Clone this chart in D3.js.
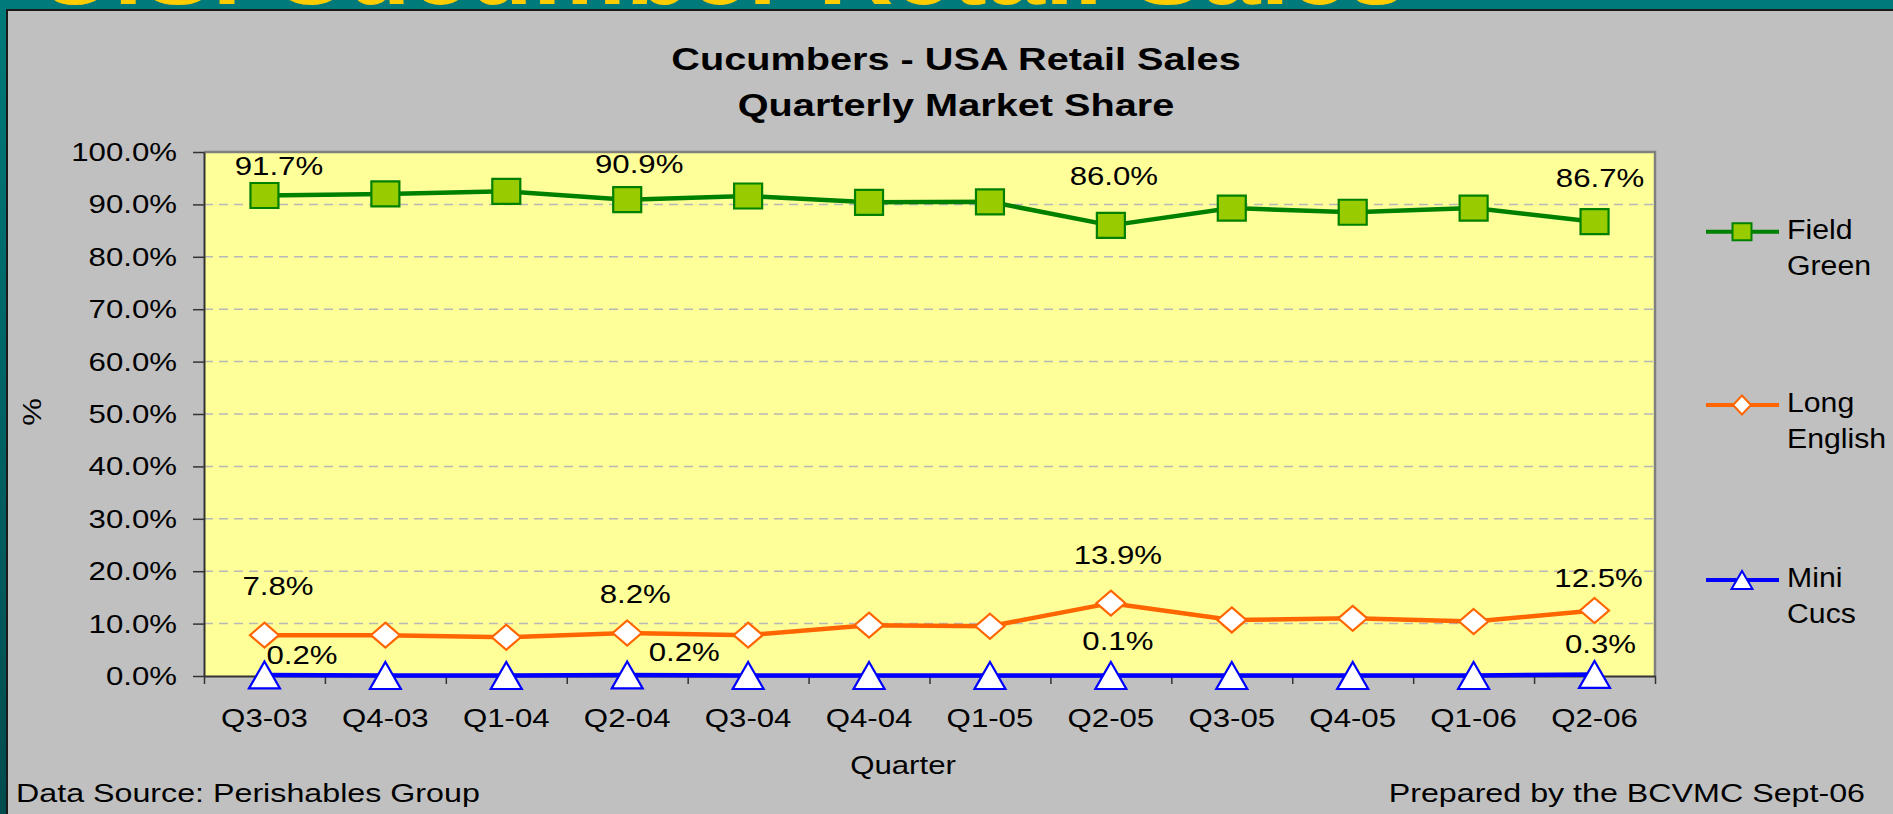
<!DOCTYPE html>
<html>
<head>
<meta charset="utf-8">
<script src="https://cdn.jsdelivr.net/npm/d3@7"></script>
<style>
  body { margin: 0; background: #007a7a; overflow: hidden; }
  svg { display: block; }
  text { font-family: "Liberation Sans", Arial, sans-serif; }
</style>
</head>
<body>
<svg id="chart" width="1893" height="814"></svg>
<script>
// ---------------- DATA ----------------
const categories = ["Q3-03", "Q4-03", "Q1-04", "Q2-04", "Q3-04", "Q4-04",
                    "Q1-05", "Q2-05", "Q3-05", "Q4-05", "Q1-06", "Q2-06"];
const fieldGreen  = [91.7, 92.0, 92.5, 90.9, 91.6, 90.4, 90.5, 86.0, 89.3, 88.5, 89.3, 86.7];
const longEnglish = [7.8, 7.8, 7.4, 8.2, 7.8, 9.7, 9.5, 13.9, 10.7, 11.0, 10.4, 12.5];
const miniCucs    = [0.2, 0.1, 0.1, 0.2, 0.1, 0.1, 0.1, 0.1, 0.1, 0.1, 0.1, 0.3];
const yTicks = [0, 10, 20, 30, 40, 50, 60, 70, 80, 90, 100];
const labelledIdx = [0, 3, 7, 11];
const seriesLegend = [["Field", "Green"], ["Long", "English"], ["Mini", "Cucs"]];
const chartTitle = ["Cucumbers - USA Retail Sales", "Quarterly Market Share"];
const bannerTitle = "U.S. Cucumber Retail Sales";

// ---------------- LAYOUT / STYLE ----------------
const SX = 1.2;              // horizontal text stretch
const plot = { left: 204, right: 1655, top: 152, bottom: 676 };
// label placement offsets (px) relative to each labelled marker
const labelOffsets = {
  field: [[14.5, -20.5], [12, -26.4], [3, -40.4], [5.5, -35]],
  long:  [[13.5, -40], [8, -29.7], [7, -39], [4, -24]],
  mini:  [[37.5, -11], [57, -14.3], [7, -25.5], [6, -21.7]]
};

const svg = d3.select("#chart");

// background with darker teal toward bottom
const defs = svg.append("defs");
const grad = defs.append("linearGradient").attr("id", "teal").attr("x1", 0).attr("y1", 0).attr("x2", 0).attr("y2", 1);
grad.append("stop").attr("offset", "0%").attr("stop-color", "#007a7a");
grad.append("stop").attr("offset", "100%").attr("stop-color", "#004c4f");
svg.append("rect").attr("width", 1893).attr("height", 814).attr("fill", "url(#teal)");
svg.append("rect").attr("x", 0).attr("y", 0).attr("width", 1893).attr("height", 10).attr("fill", "#007a7a");

// banner title (cut off at top)
svg.append("text")
  .attr("x", 38).attr("y", 3.5)
  .attr("font-size", 90).attr("font-weight", "bold").attr("fill", "#ffcc00")
  .attr("textLength", 1368).attr("lengthAdjust", "spacingAndGlyphs")
  .text(bannerTitle);

// grey panel
svg.append("rect").attr("x", 7).attr("y", 10).attr("width", 1900).attr("height", 820)
  .attr("fill", "#c0c0c0").attr("stroke", "#1a1a1a").attr("stroke-width", 2);

function stext(parent, x, y, str, opts = {}) {
  const t = parent.append("text")
    .attr("transform", `translate(${x},${y}) scale(${opts.sx || SX},1)` + (opts.extra || ""))
    .attr("font-size", opts.size || 26)
    .attr("text-anchor", opts.anchor || "start")
    .attr("fill", opts.fill || "#000")
    .text(str);
  if (opts.bold) t.attr("font-weight", "bold");
  return t;
}

// chart title
stext(svg, 956, 70, chartTitle[0], { size: 32, bold: true, anchor: "middle", sx: 1.24 });
stext(svg, 956, 116, chartTitle[1], { size: 32, bold: true, anchor: "middle", sx: 1.24 });

// scales
const x = d3.scaleBand().domain(categories).range([plot.left, plot.right]);
const xIdx = d3.scaleLinear().domain([0, categories.length]).range([plot.left, plot.right]);
const y = d3.scaleLinear().domain([0, 100]).range([plot.bottom, plot.top]);
const cx = (i) => x(categories[i]) + x.bandwidth() / 2;

// plot background
svg.append("rect").attr("x", plot.left).attr("y", plot.top)
  .attr("width", plot.right - plot.left).attr("height", plot.bottom - plot.top)
  .attr("fill", "#ffff99");

// gridlines
svg.append("g").selectAll("line").data(yTicks.filter(d => d > 0 && d < 100)).join("line")
  .attr("x1", plot.left).attr("x2", plot.right)
  .attr("y1", d => y(d)).attr("y2", d => y(d))
  .attr("stroke", "#b8b8b8").attr("stroke-width", 1.5).attr("stroke-dasharray", "9,6");

// plot border top/right
svg.append("path")
  .attr("d", `M${plot.left},${plot.top}H${plot.right}V${plot.bottom}`)
  .attr("fill", "none").attr("stroke", "#808080").attr("stroke-width", 2.5);

// y axis
const yAxis = svg.append("g").attr("transform", `translate(${plot.left},0)`)
  .call(d3.axisLeft(y).tickValues(yTicks).tickSize(11).tickSizeOuter(0)
        .tickFormat(d => d.toFixed(1) + "%"));
yAxis.select(".domain").attr("stroke", "#333").attr("stroke-width", 2);
yAxis.selectAll(".tick line").attr("stroke", "#333").attr("stroke-width", 1.5);
yAxis.selectAll(".tick text")
  .attr("x", -27 / SX).attr("dy", "0.33em")
  .attr("transform", `scale(${SX},1)`)
  .attr("font-size", 26).attr("font-family", null).attr("fill", "#000");

// x axis: boundary ticks
const xTickAxis = svg.append("g").attr("transform", `translate(0,${plot.bottom})`)
  .call(d3.axisBottom(xIdx).tickValues(d3.range(categories.length + 1)).tickSize(8)
        .tickSizeOuter(0).tickFormat(""));
xTickAxis.select(".domain").attr("stroke", "#333").attr("stroke-width", 2);
xTickAxis.selectAll(".tick line").attr("stroke", "#333").attr("stroke-width", 1.5);

// x axis labels
const xLabAxis = svg.append("g").attr("transform", `translate(0,${plot.bottom})`)
  .call(d3.axisBottom(x).tickSize(0));
xLabAxis.select(".domain").remove();
xLabAxis.selectAll(".tick text")
  .attr("y", 50.7).attr("dy", 0)
  .attr("transform", `scale(${SX},1)`)
  .attr("font-size", 26).attr("font-family", null).attr("fill", "#000");

// axis titles
stext(svg, 903, 774, "Quarter", { anchor: "middle" });
stext(svg, 41, 412, "%", { anchor: "middle", extra: "", sx: 1 })
  .attr("transform", `translate(41,412) rotate(-90) scale(${SX},1)`);

// footer
stext(svg, 16, 802, "Data Source: Perishables Group", { sx: 1.24 });
stext(svg, 1865, 802, "Prepared by the BCVMC Sept-06", { anchor: "end", sx: 1.24 });

// series definitions
const series = [
  { key: "field", values: fieldGreen, color: "#008000", marker: "square", fill: "#99cc00" },
  { key: "long", values: longEnglish, color: "#ff6600", marker: "diamond", fill: "#ffffff" },
  { key: "mini", values: miniCucs, color: "#0000ff", marker: "triangle", fill: "#ffffff" }
];

function markerPath(type, w, h) {
  const a = w / 2, b = h / 2;
  if (type === "square") return `M${-a},${-b}H${a}V${b}H${-a}Z`;
  if (type === "diamond") return `M0,${-b}L${a},0L0,${b}L${-a},0Z`;
  return `M0,${-b}L${a},${b}H${-a}Z`;
}
const markerSize = { square: [28, 25], diamond: [29, 25], triangle: [31, 27] };
const legendMarkerSize = { square: [19, 17], diamond: [18, 19], triangle: [21, 18] };

const line = d3.line().x((d, i) => cx(i)).y(d => y(d));

series.forEach(s => {
  svg.append("path").datum(s.values)
    .attr("d", line).attr("fill", "none")
    .attr("stroke", s.color).attr("stroke-width", 4.5).attr("stroke-linejoin", "round");
});
series.forEach(s => {
  const [w, h] = markerSize[s.marker];
  svg.append("g").selectAll("path").data(s.values).join("path")
    .attr("transform", (d, i) => `translate(${cx(i)},${y(d)})`)
    .attr("d", markerPath(s.marker, w, h))
    .attr("fill", s.fill).attr("stroke", s.color).attr("stroke-width", 2.2);
});

// data labels
series.forEach(s => {
  labelledIdx.forEach((i, k) => {
    const [dx, dy] = labelOffsets[s.key][k];
    stext(svg, cx(i) + dx, y(s.values[i]) + dy, s.values[i].toFixed(1) + "%", { anchor: "middle" });
  });
});

// legend
const legendY = [231.7, 405, 580];
series.forEach((s, k) => {
  const ly = legendY[k];
  svg.append("line").attr("x1", 1706).attr("x2", 1779).attr("y1", ly).attr("y2", ly)
    .attr("stroke", s.color).attr("stroke-width", 4);
  const [w, h] = legendMarkerSize[s.marker];
  svg.append("path").attr("transform", `translate(1742,${ly})`)
    .attr("d", markerPath(s.marker, w, h))
    .attr("fill", s.fill).attr("stroke", s.color).attr("stroke-width", 2);
  stext(svg, 1787, ly + 7, seriesLegend[k][0], { size: 27, sx: 1.12 });
  stext(svg, 1787, ly + 43, seriesLegend[k][1], { size: 27, sx: 1.12 });
});
</script>
</body>
</html>
